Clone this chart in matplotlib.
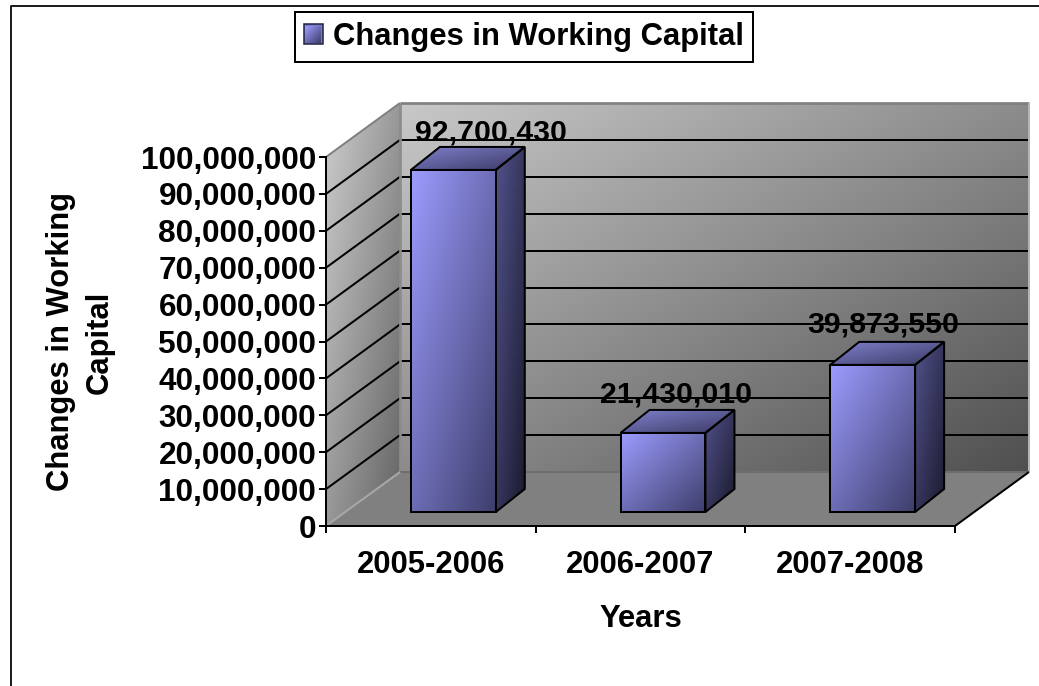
import numpy as np
import matplotlib
matplotlib.use("Agg")
import matplotlib.pyplot as plt
from matplotlib.patches import Polygon, Patch
from matplotlib.lines import Line2D
from matplotlib.transforms import IdentityTransform

periods = ["2005-2006", "2006-2007", "2007-2008"]
working_capital = [92700430, 21430010, 39873550]
value_ticks = list(range(0, 100000001, 10000000))
series_name = "Changes in Working Capital"
x_title = "Years"
y_title = "Changes in Working\nCapital"

plt.rcParams["font.family"] = ["Liberation Sans", "DejaVu Sans"]
plt.rcParams["font.weight"] = "bold"

W, H, DPI = 1039, 686, 100
LW = 1.44  # two pixels at this resolution
FONT = 22.3
FONT_VALUES = 22.7
FONT_LABELS = 21.8

# Oblique projection, in pixels
WALL_DX, WALL_DY = 74, 54
BAR_SHIFT_X, BAR_SHIFT_Y = 22.5, 14
BAR_DX, BAR_DY = 29, 23
BAR_WIDTH = 0.405

fig = plt.figure(figsize=(W / DPI, H / DPI), dpi=DPI, facecolor="white")
ax = fig.add_axes([326 / W, (H - 526) / H, 629 / W, 369 / H])
ax.set_xlim(0, 3)
ax.set_ylim(0, 100000000)
ax.patch.set_visible(False)
for side in ("top", "right"):
    ax.spines[side].set_visible(False)
for side in ("left", "bottom"):
    ax.spines[side].set_linewidth(LW)
    ax.spines[side].set_zorder(6)


def px(x, v, dx=0.0, dy=0.0):
    """Data point to display pixels, with an oblique offset."""
    p = ax.transData.transform((x, v))
    return (p[0] + dx, p[1] + dy)


def shaded(points, c00, c11, zorder, edge=None, lw=LW):
    """Polygon filled by a diagonal gradient from top-left c00 to bottom-right c11."""
    pts = np.array(points)
    x0, y0 = pts.min(axis=0)
    x1, y1 = pts.max(axis=0)
    n = 96
    u, t = np.meshgrid(np.linspace(0, 1, n), np.linspace(0, 1, n))  # t=0 is the bottom row
    k = ((u + (1 - t)) / 2)[..., None]
    a, b = np.array(c00, float) / 255, np.array(c11, float) / 255
    rgb = a + (b - a) * k
    im = ax.imshow(rgb, origin="lower", extent=(x0, x1, y0, y1), aspect="auto",
                   interpolation="bilinear", transform=IdentityTransform(), zorder=zorder)
    clip = Polygon(pts, closed=True, transform=IdentityTransform(), facecolor="none",
                   edgecolor=edge if edge else "none", linewidth=lw, zorder=zorder + 0.1,
                   joinstyle="miter", clip_on=False)
    ax.add_patch(clip)
    im.set_clip_box(fig.bbox)
    im.set_clip_path(clip)
    return clip


def seg(p, q, color="black", lw=LW, zorder=2):
    ax.add_line(Line2D([p[0], q[0]], [p[1], q[1]], color=color, linewidth=lw,
                       transform=IdentityTransform(), zorder=zorder,
                       solid_capstyle="butt", clip_on=False))


vmax = value_ticks[-1]

# Floor
floor = [px(0, 0), px(3, 0), px(3, 0, WALL_DX, WALL_DY), px(0, 0, WALL_DX, WALL_DY)]
ax.add_patch(Polygon(floor, closed=True, transform=IdentityTransform(), facecolor="#808080",
                     edgecolor="none", zorder=1, clip_on=False))

# Back wall and side wall
back = [px(0, 0, WALL_DX, WALL_DY), px(3, 0, WALL_DX, WALL_DY),
        px(3, vmax, WALL_DX, WALL_DY), px(0, vmax, WALL_DX, WALL_DY)]
shaded(back, (200, 200, 200), (80, 80, 80), 1)
side = [px(0, 0), px(0, 0, WALL_DX, WALL_DY), px(0, vmax, WALL_DX, WALL_DY), px(0, vmax)]
shaded(side, (205, 205, 205), (100, 100, 100), 1)

# Gridlines on both walls
for v in value_ticks[1:-1]:
    seg(px(0, v), px(0, v, WALL_DX, WALL_DY))
    seg(px(0, v, WALL_DX, WALL_DY), px(3, v, WALL_DX, WALL_DY))

# Wall and floor edges
seg(px(0, vmax), px(0, vmax, WALL_DX, WALL_DY), "#808080", LW, 2.2)
seg(px(0, vmax, WALL_DX, WALL_DY), px(3, vmax, WALL_DX, WALL_DY), "#808080", LW + 0.5, 2.2)
seg(px(0, 0, WALL_DX, WALL_DY), px(0, vmax, WALL_DX, WALL_DY), "#8c8c8c", LW + 0.5, 2.2)
seg(px(3, 0, WALL_DX, WALL_DY), px(3, vmax, WALL_DX, WALL_DY), "#b4b4b4", LW, 2.2)
seg(px(0, 0, WALL_DX, WALL_DY), px(3, 0, WALL_DX, WALL_DY), "#6e6e6e", LW, 2.2)
seg(px(0, 0), px(0, 0, WALL_DX, WALL_DY), "#a8a8a8", LW, 2.2)
seg(px(3, 0), px(3, 0, WALL_DX, WALL_DY), "black", LW, 2.2)

# Bars
label_offsets = [(38, 29), (13, 30), (11, 32)]
for i, (value, offset) in enumerate(zip(working_capital, label_offsets)):
    left, right = i + 0.5 - BAR_WIDTH / 2, i + 0.5 + BAR_WIDTH / 2
    z = 3 + i
    fl = px(left, 0, BAR_SHIFT_X, BAR_SHIFT_Y)
    fr = px(right, 0, BAR_SHIFT_X, BAR_SHIFT_Y)
    tl = px(left, value, BAR_SHIFT_X, BAR_SHIFT_Y)
    tr = px(right, value, BAR_SHIFT_X, BAR_SHIFT_Y)
    shaded([(tl[0], tl[1]), (tr[0], tr[1]), (tr[0] + BAR_DX, tr[1] + BAR_DY),
            (tl[0] + BAR_DX, tl[1] + BAR_DY)], (128, 128, 205), (58, 58, 100), z, edge="black")
    shaded([(fr[0], fr[1]), (fr[0] + BAR_DX, fr[1] + BAR_DY), (tr[0] + BAR_DX, tr[1] + BAR_DY),
            (tr[0], tr[1])], (82, 82, 140), (26, 26, 46), z, edge="black")
    shaded([fl, fr, tr, tl], (156, 156, 255), (62, 62, 108), z + 0.2, edge="black")
    ax.annotate(f"{value:,}", xy=(i + 0.5, value), xycoords="data",
                xytext=(px(i + 0.5, value, BAR_SHIFT_X + offset[0], BAR_SHIFT_Y + offset[1])),
                textcoords="figure pixels", ha="center", va="baseline",
                fontsize=FONT_LABELS, fontweight="bold", color="black", zorder=8,
                annotation_clip=False)

# Axes furniture
ax.set_xticks([0.5, 1.5, 2.5], periods)
ax.set_xticks([0, 1, 2, 3], minor=True)
ax.tick_params(axis="x", which="major", length=0, pad=17.4, labelsize=FONT)
ax.tick_params(axis="x", which="minor", length=5.04, width=LW)
ax.set_yticks(value_ticks)
ax.yaxis.set_major_formatter(matplotlib.ticker.StrMethodFormatter("{x:,.0f}"))
ax.tick_params(axis="y", which="major", length=5.04, width=LW, pad=2, labelsize=FONT_VALUES)
ax.set_xlim(0, 3)
ax.set_ylim(0, 100000000)

fig.text(641 / W, (H - 619) / H, x_title, ha="center", va="center", fontsize=FONT, fontweight="bold")
fig.text(80 / W, (H - 342) / H, y_title, ha="center", va="center", rotation=90, multialignment="center",
         fontsize=FONT, fontweight="bold", linespacing=1.39)

# Chart frame: left and top edges run off the image
fig.add_artist(Line2D([10.5 / W, 10.5 / W, 1], [0, (H - 5.5) / H, (H - 5.5) / H], color="#202020",
                      linewidth=LW, transform=fig.transFigure))

# Legend
handle = Patch(facecolor="#7a7ac8", edgecolor="#202040", linewidth=1.1, label=series_name)
leg = fig.legend(handles=[handle], loc="center", bbox_to_anchor=(524 / W, (H - 37) / H),
                 frameon=True, fancybox=False, framealpha=1, edgecolor="black",
                 fontsize=FONT, handlelength=0.585, handleheight=0.585, handletextpad=0.32,
                 borderpad=0.31, borderaxespad=0)
leg.get_frame().set_linewidth(LW)
fig.canvas.draw()
ext = leg.legend_handles[0].get_window_extent()
sw = int(ext.width) - 2
sh = int(ext.height) - 2
uu, tt = np.meshgrid(np.linspace(0, 1, sw), np.linspace(0, 1, sh))
kk = ((uu + tt) / 2)[..., None]
swatch = (np.array([156, 156, 255]) + (np.array([62, 62, 108]) - np.array([156, 156, 255])) * kk) / 255
fig.figimage(swatch, xo=int(ext.x0) + 1, yo=int(ext.y0) + 1, origin="upper", zorder=10)

fig.savefig("out.png", dpi=DPI, facecolor="white")
